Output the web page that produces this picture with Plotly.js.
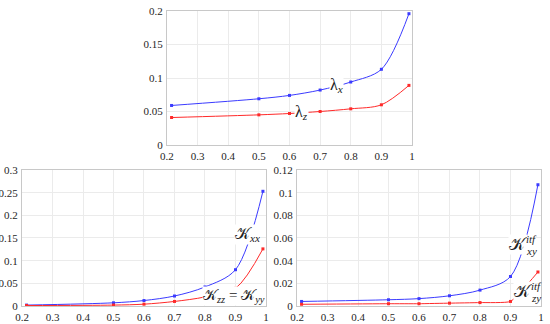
<!DOCTYPE html>
<html><head><meta charset="utf-8">
<script src="https://cdn.plot.ly/plotly-3.0.1.min.js"></script>
<style>html,body{margin:0;padding:0;background:#fff}#c{width:550px;height:324px}</style>
</head><body><div id="c"></div>
<script>
const xs = [0.215, 0.5, 0.6, 0.7, 0.8, 0.9, 0.99];
const lambdaX = [0.059, 0.069, 0.074, 0.082, 0.094, 0.113, 0.196];
const lambdaZ = [0.041, 0.045, 0.047, 0.050, 0.054, 0.060, 0.089];
const kxx = [0.002, 0.007, 0.012, 0.022, 0.042, 0.080, 0.253];
const kzz = [0.001, 0.002, 0.004, 0.010, 0.020, 0.039, 0.126];
const kxyItf = [0.004, 0.0055, 0.0065, 0.009, 0.014, 0.026, 0.107];
const kzyItf = [0.0015, 0.002, 0.002, 0.0025, 0.003, 0.004, 0.030];

const blue = '#3b3bff', red = '#ff2a2a';
function tr(y, c, xa, ya, sm){
  return {x: xs, y: y, xaxis: xa, yaxis: ya, mode: 'lines+markers', type: 'scatter',
    line: {color: c, width: 1, shape: 'spline', smoothing: sm || 0.9},
    marker: {color: c, size: 3, symbol: 'square', line: {width: 0}}, showlegend: false};
}
const data = [
  tr(lambdaX, blue, 'x', 'y'), tr(lambdaZ, red, 'x', 'y'),
  tr(kxx, blue, 'x2', 'y2'), tr(kzz, red, 'x2', 'y2'),
  tr(kxyItf, blue, 'x3', 'y3'), tr(kzyItf, red, 'x3', 'y3', 0.4)
];
const SERIF = 'Liberation Serif';
const tickF = {family: SERIF, size: 11, color: '#262626'};
function ax(dom, anchor, range, dtick){
  return {domain: dom, anchor: anchor, range: range, dtick: dtick, tick0: 0,
    showgrid: true, gridcolor: '#ebebeb', gridwidth: 1, zeroline: false,
    showline: true, linecolor: '#c8c8c8', linewidth: 1, mirror: true,
    ticks: '', ticklabelstandoff: 1, tickfont: tickF, fixedrange: true};
}
function ann(text, x, y, xr, yr, opts){
  opts = opts || {};
  return {text: text, x: x, y: y, xref: xr, yref: yr, showarrow: false,
    xanchor: opts.xanchor || 'center', yanchor: opts.yanchor || 'middle',
    xshift: opts.xshift || 0, yshift: opts.yshift || 0, align: 'left',
    font: {family: SERIF, size: opts.size || 15, color: '#222'},
    bgcolor: opts.nobg ? 'rgba(0,0,0,0)' : '#fff', borderpad: 0};
}
const layout = {
  width: 550, height: 324, margin: {l: 0, r: 0, t: 0, b: 0},
  paper_bgcolor: '#fff', plot_bgcolor: '#fff',
  font: {family: SERIF},
  xaxis: ax([0.3036, 0.7491], 'y', [0.2, 1], 0.1),
  yaxis: ax([0.5525, 0.966], 'x', [0, 0.2], 0.05),
  xaxis2: ax([0.04, 0.4836], 'y2', [0.2, 1], 0.1),
  yaxis2: ax([0.0556, 0.4753], 'x2', [0, 0.3], 0.05),
  xaxis3: ax([0.54, 0.9836], 'y3', [0.2, 1], 0.1),
  yaxis3: ax([0.0556, 0.4753], 'x3', [0, 0.12], 0.02),
  annotations: [
    ann('λ<sub><i>x</i></sub>', 0.755, 0.089, 'x', 'y', {size: 16}),
    ann('λ<sub><i>z</i></sub>', 0.64, 0.049, 'x', 'y', {size: 16}),
    ann('𝒦<sub><i>xx</i></sub>', 0.94, 0.157, 'x2', 'y2', {size: 16}),
    ann('𝒦<sub><i>zz</i></sub> = 𝒦<sub><i>yy</i></sub>', 0.895, 0.021, 'x2', 'y2', {size: 15}),
    ann('𝒦', 0.925, 0.054, 'x3', 'y3', {size: 17}),
    ann('<i>itf</i>', 0.925, 0.054, 'x3', 'y3', {size: 11, xanchor: 'left', xshift: 7, yshift: 6, nobg: true}),
    ann('<i>xy</i>', 0.925, 0.054, 'x3', 'y3', {size: 11, xanchor: 'left', xshift: 7, yshift: -6, nobg: true}),
    ann('𝒦', 0.94, 0.0125, 'x3', 'y3', {size: 17}),
    ann('<i>itf</i>', 0.94, 0.0125, 'x3', 'y3', {size: 11, xanchor: 'left', xshift: 7, yshift: 6, nobg: true}),
    ann('<i>zy</i>', 0.94, 0.0125, 'x3', 'y3', {size: 11, xanchor: 'left', xshift: 7, yshift: -6, nobg: true})
  ]
};
Plotly.newPlot('c', data, layout, {staticPlot: true, displayModeBar: false});
</script></body></html>
